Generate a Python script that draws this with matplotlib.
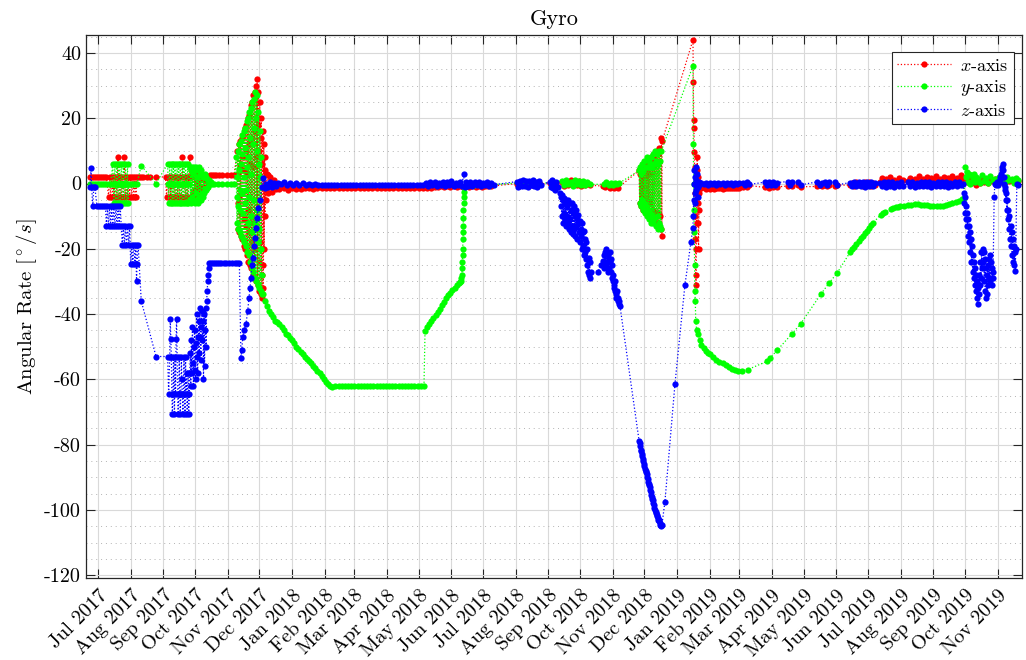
import numpy as np
import pandas as pd
import matplotlib
matplotlib.use('Agg')
import matplotlib.pyplot as plt
import matplotlib.dates as mdates
from matplotlib.ticker import MultipleLocator, FuncFormatter

plt.rcParams['font.family'] = 'serif'
plt.rcParams['font.serif'] = ['cmr10']
plt.rcParams['mathtext.fontset'] = 'cm'
plt.rcParams['axes.unicode_minus'] = False
plt.rcParams['axes.formatter.use_mathtext'] = True

# время в днях от 1 июля 2017, значение в град/с
start = pd.Timestamp('2017-07-01')

x_pts = [
    (-8, 2), (-6, 2), (-4, 2), (-2, 2), (0, 2), (2, 2), (4, 2), (6, 2), (8, 2),
    (10, -4), (11, 2), (12, -4), (13, 2), (14, -4), (15, 2), (16, -4), (17, 2), (18, -4), (19, 8), (19.5, 2),
    (20, -4), (21, 2), (22, -4), (23, 2), (24, -4), (25, 8), (25.5, 2), (26, -4), (27, 2), (28, -4), (29, 2),
    (30, -4), (31, 2), (32, -4), (33, 2), (34, -4), (35, 2), (36, -4), (37, 2),
    (39, 2), (41, 2), (43, 2), (46, 2), (49, 2), (55, 2),
    (64, 2), (65, -4), (66, 2), (67, -4), (68, 2), (69, -4), (70, 2), (71, -4), (72, 2), (73, -4), (74, 2),
    (75, -4), (76, 2), (77, -4), (78, 2), (79, -4), (80, 8), (80.5, 2), (81, -4), (82, 2), (83, -4), (84, 2),
    (85, -4), (86, 2), (87, 8), (87.5, 2), (88, -4), (89, 2),
    (90, -3), (90.5, 3), (91, -4), (91.5, 2), (92, -2), (92.5, 4), (93, -4), (93.5, 3), (94, -3), (94.5, 1),
    (95, -2), (95.5, 3), (96, -1), (96.5, 2), (97, -2), (97.5, 2), (98, 1), (99, -1), (100, 2), (101, -2),
    (102, 1), (103, -1), (104, 2), (105, 0), (106, 2.5),
    (108, 2.5), (110, 2.5), (112, 2.5), (115, 2.5), (118, 2.5), (122, 2.5), (126, 2.5), (129, 2.5),
    (132, 10), (132.35, -6), (132.7, -14), (133.05, 3), (133.4, 12), (133.75, -4), (134.1, -15), (134.45, 5),
    (134.8, 13), (135.15, -9), (135.5, -16), (135.85, 6), (136.2, 14), (136.55, -3), (136.9, -17), (137.25, 8),
    (137.6, 15), (137.95, -11), (138.3, -19), (138.65, 4), (139, 17), (139.35, -6), (139.7, -20), (140.05, 10),
    (140.4, 18), (140.75, -13), (141.1, -22), (141.45, 3), (141.8, 20), (142.15, -8), (142.5, -24), (142.85, 12),
    (143.2, 21), (143.55, -15), (143.9, -25), (144.25, 6), (144.6, 24), (144.95, -10), (145.3, -26), (145.65, 14),
    (146, 25), (146.35, -18), (146.7, -28), (147.05, 5), (147.4, 27), (147.75, -12), (148.1, -29), (148.45, 16),
    (148.8, 28), (149.15, -20), (149.5, -30), (149.85, 8), (150.2, 30), (150.55, -14), (150.9, 32), (151.25, -31),
    (151.6, 18), (151.95, 28), (152.3, -24), (152.65, -33), (153, 10), (153.35, 25), (153.7, -18), (154.05, -34),
    (154.4, 14), (154.75, 20), (155.1, -28), (155.45, -35), (155.8, 6), (156.15, 16), (156.5, -32), (156.85, -25),
    (157.2, 12), (157.55, -20), (157.9, 8), (158.25, -10), (158.6, 4), (159, -5), (159.6, -2), (160.2, 3),
    (160.8, 2.5), (161.5, -3), (163, 2), (165, -2.5), (167, 1), (169, -1.8),
    (172, -1.8), (176, -1.5), (180, -1.9), (184, -1.4), (188, -1.7), (192, -1.6), (196, -1.3), (200, -1.5),
    (204, -1.6), (208, -1.4), (212, -1.5), (216, -1.5), (220, -1.4), (224, -1.5), (228, -1.5), (232, -1.4),
    (236, -1.5), (240, -1.5), (244, -1.4), (248, -1.5), (252, -1.5), (256, -1.4), (260, -1.5), (264, -1.5),
    (268, -1.4), (272, -1.5), (276, -1.5), (280, -1.4), (284, -1.5), (288, -1.5), (292, -1.4), (296, -1.5),
    (300, -1.5), (304, -1.4), (308, -1.5), (312, -1.5), (316, -1.3), (319, -1.0), (322, -1.2), (325, -0.8),
    (328, -1.1), (331, -0.9), (334, -1.2), (337, -0.8), (340, -1.0), (343, -0.9), (346, -1.2), (349, -0.8),
    (352, -1.0), (355, -0.7), (358, -1.0), (361, -0.8), (364, -1.0), (367, -0.7), (370, -0.9), (373, -0.8),
    (397, 0), (399, -0.8), (401, 0.5), (403, -0.6), (405, 0.3), (407, -0.5), (409, 0.6), (411, -0.4),
    (413, 0.4), (415, -0.6), (417, 0.2), (419, -0.3),
    (428, 0.3), (430, -0.6), (432, 0.2), (434, -0.4), (440, 0.5), (442, -0.8), (444, 0.8), (446, -0.5),
    (448, 1), (450, -0.6), (452, 0.7), (454, -0.4), (456, 0.9), (458, -0.7), (460, 0.5), (462, -0.6),
    (464, 0.3), (466, -0.5),
    (479, -0.8), (481, -1.2), (483, -0.6), (485, -1.3), (487, -0.9), (489, -1.4), (491, -1.0), (493, -1.3),
    (513, 4), (513.5, -6), (514, 3), (514.5, -7), (515, 5), (515.5, -5), (516, 3), (516.5, -8), (517, 6),
    (517.5, -5), (518, 2), (518.5, -8), (519, 6), (519.5, -9), (520, 4), (520.5, -7), (521, 7), (521.5, -9),
    (522, 3), (522.5, -10), (523, 7), (523.5, -6), (524, 8), (524.5, -10), (525, 5), (525.5, -11), (526, 8),
    (526.5, -8), (527, 9), (527.5, -11), (528, 6), (528.5, -12), (529, 9), (529.5, -9), (530, 10), (530.5, -12),
    (531, 7), (531.5, -13), (532, 11), (532.5, -10), (533, 10), (533.5, -14), (534, 14), (534.5, -16), (534.8, 13),
    (564, 44), (564.3, 31), (564.6, 19.5), (564.9, 17), (565.2, 9.5), (565.5, 5), (565.8, -3), (566, -10),
    (566.3, -17), (566.6, -28), (566.9, -31), (567.2, -20), (567.5, -12), (567.8, 4), (568, 8), (568.3, 2),
    (568.6, -6), (569, -12), (569.3, -20), (569.6, -8), (570, -3), (571, -1.5),
    (572, -1.5), (574, -1), (576, -1.8), (578, -1.2), (580, -1.6), (582, -1.3), (584, -1.7), (586, -1.4),
    (588, -1.5), (590, -1.3), (592, -1.6), (594, -1.4), (596, -1.5), (598, -1.4), (600, -1.5), (602, -1.3),
    (604, -1.5), (606, -1.4), (608, -1.5),
    (611, -1), (613, -0.5), (615, -1.2), (617, -0.6),
    (632, -1.2), (634, -0.6), (636, -1.3), (638, -0.5), (640, -1.1), (642, -0.7), (644, -1.0),
    (654, -0.8), (656, -0.4), (658, -0.9), (664, -0.6), (666, -1.0),
    (682, -0.9), (684, -0.4), (686, -0.8), (689, -0.5), (691, -0.9), (693, -0.4), (699, -0.8), (701, -0.5),
    (713, -0.5), (715, 0.3), (717, -0.8), (719, 0.5), (721, -0.6), (723, 0.2), (725, -0.9), (727, 0.4),
    (729, -0.5), (731, 0.6), (733, -0.7), (735, 0.3), (737, -0.4),
    (741, 0.5), (743, 1.8), (745, 0.3), (747, 1.5), (749, -0.2), (751, 2), (753, 0.5), (755, 1.2),
    (757, -0.3), (759, 1.7), (761, 0.4), (763, 1.0),
    (768, 0.8), (770, 1.8), (772, 0.5), (774, 1.5), (776, 0.9), (778, 2.2), (780, 0.6), (782, 1.4),
    (784, 1.0), (786, 2.0), (788, 0.7), (790, 1.6), (792, 1.1), (794, 2.3), (796, 0.8), (798, 1.5),
    (800, 1.2), (802, 2.0), (804, 0.9), (806, 1.7), (808, 1.3), (810, 2.4), (812, 1.0), (814, 1.6),
    (816, 1.4), (818, 2.5), (820, 1.1), (822, 1.8),
    (824, 0.5), (826, 2), (828, 0.3), (830, 1.2), (832, -0.5), (834, 1.5), (836, 0.2), (838, 1),
    (840, 0.6), (842, 1.4), (844, 0.1), (846, 1.2), (848, 0.8), (850, 1.5), (852, 0.4), (854, 1.0),
    (856, 0.6), (858, 1.3), (860, 0.5), (862, 1.1), (864, 0.8), (866, 1.2), (868, 0.6), (870, 1.0), (872, 0.8),
]

y_pts = [
    (-8, 0), (-6, 0), (-4, 0), (-2, 0), (0, 0), (2, 0), (4, 0), (6, 0), (8, 0), (10, 0), (12, 0),
    (14, 6), (14.5, 0), (15, -6), (15.5, 0), (16, 6), (16.5, 0), (17, -6), (17.5, 0), (18, 6), (18.5, 0),
    (19, -6), (19.5, 0), (20, 6), (20.5, 0), (21, -6), (21.5, 0), (22, 6), (22.5, 0), (23, -6), (23.5, 0),
    (24, 6), (24.5, 0), (25, -6), (25.5, 0), (26, 6), (26.5, 0), (27, -6), (27.5, 0), (28, 6), (28.5, -6),
    (29, 0), (31, 0), (33, 0), (35, 0), (37, 0), (41, 5.5), (55, 0),
    (66, 6), (66.5, 0), (67, -6), (67.5, 0), (68, 6), (68.5, 0), (69, -6), (69.5, 0), (70, 6), (70.5, -6),
    (71, 0), (71.5, 6), (72, -6), (72.5, 0), (73, 6), (73.5, 0), (74, -6), (74.5, 0), (75, 6), (75.5, -6),
    (76, 0), (76.5, 6), (77, 0), (77.5, -6), (78, 6), (78.5, 0), (79, -6), (79.5, 0), (80, 6), (80.5, -6),
    (81, 0), (81.5, 6), (82, 0), (82.5, -6), (83, 6), (83.5, 0), (84, -6), (84.5, 0), (85, 6), (85.5, -6), (86, 0),
    (87, 5), (87.5, -5), (88, 4), (88.5, -6), (89, 5), (89.5, -4), (90, 3), (90.5, -5), (91, 5), (91.5, -6),
    (92, 4), (92.5, -3), (93, 5), (93.5, -5), (94, 2), (94.5, -6), (95, 4), (95.5, -4), (96, 5), (96.5, -5),
    (97, 3), (97.5, -5), (98, 4), (98.5, -3), (99, 3), (99.5, -4), (100, 2), (100.5, -3), (101, 3), (101.5, -2),
    (102, 2), (102.5, -2), (103, 1.5), (103.5, -1.5), (104, 1), (104.5, -1), (105, 1), (106, 0), (107, 0.5), (108, 0),
    (110, 0), (114, 0), (118, 0), (122, 0), (126, 0), (129, 0),
    (131, 8), (131.35, -4), (131.7, -12), (132.05, 2), (132.4, 10), (132.75, -7), (133.1, -14), (133.45, 4),
    (133.8, 12), (134.15, -2), (134.5, -15), (134.85, -8), (135.2, 13), (135.55, 6), (135.9, -16), (136.25, -3),
    (136.6, 15), (136.95, 9), (137.3, -17), (137.65, -9), (138, 16), (138.35, 2), (138.7, -18), (139.05, -6),
    (139.4, 17), (139.75, 11), (140.1, -19), (140.45, -2), (140.8, 19), (141.15, 5), (141.5, -21), (141.85, -12),
    (142.2, 20), (142.55, 8), (142.9, -22), (143.25, -4), (143.6, 22), (143.95, 14), (144.3, -24), (144.65, -10),
    (145, 23), (145.35, 3), (145.7, -26), (146.05, -15), (146.4, 25), (146.75, 12), (147.1, -27), (147.45, -5),
    (147.8, 26), (148.15, 17), (148.5, -29), (148.85, -12), (149.2, 28), (149.55, 20), (149.9, -30), (150.25, -8),
    (150.6, 27), (150.95, 10), (151.3, -31), (151.65, -18), (152, 22), (152.35, 6), (152.7, -32), (153.05, -14),
    (153.4, 16), (153.75, 2), (154.1, -33), (154.45, -20), (154.8, 8), (155.15, -28), (155.5, -34),
    (156, -34), (158, -36), (160, -37.5), (162, -39), (164, -40), (166, -41), (168, -42), (170, -42.5),
    (172, -43), (174, -44), (176, -45), (178, -46), (180, -46.5), (182, -47.3), (184, -48), (186, -49),
    (188, -50), (190, -50.8), (192, -51.5), (194, -52.2), (196, -53), (198, -53.7), (200, -54.3), (202, -55),
    (204, -55.8), (206, -56.5), (208, -57.3), (210, -58), (212, -59), (214, -60), (216, -60.7), (218, -61.4),
    (220, -62), (222, -62.2), (225, -62), (228, -62.1), (231, -62), (234, -62.1), (237, -62), (240, -62.1),
    (243, -62), (246, -62.1), (249, -62), (252, -62.1), (255, -62), (258, -62.1), (261, -62), (264, -62.1),
    (267, -62), (270, -62.1), (273, -62), (276, -62.1), (279, -62), (282, -62.1), (285, -62), (288, -62.1),
    (291, -62), (294, -62.1), (297, -62), (300, -62.1), (303, -62), (306, -62.1), (309, -62.1),
    (310, -45.2), (312, -44), (314, -43), (316, -42.2), (318, -41.2), (320, -40.3), (322, -39.3), (324, -38.3),
    (326, -37.2), (328, -36.3), (330, -35.2), (332, -34.3), (334, -33.5), (336, -32.7), (338, -32), (340, -31.2),
    (342, -30.5), (343, -30.2), (344, -30), (344.5, -29), (345, -28), (345.2, -26), (345.4, -24), (345.6, -22),
    (345.8, -20), (346, -17), (346.1, -15), (346.2, -13), (346.3, -10.5), (346.45, -8), (346.6, -6),
    (346.75, -4), (346.9, -2.5), (347.2, -1.2),
    (349, -0.5), (352, -0.3), (356, -0.5), (360, -0.2), (364, -0.4), (368, -0.3), (372, -0.4),
    (398, 0.2), (402, -0.2), (406, 0.3), (410, -0.3), (414, 0.2), (418, -0.2),
    (431, 0.5), (440, 0.8), (442, -0.5), (444, 1), (446, -0.3), (448, 0.6), (450, -0.7), (452, 1), (454, -0.2),
    (456, 0.7), (458, -0.6), (460, 0.9), (462, -0.4), (464, 0.5), (466, -0.3),
    (480, -0.2), (482, 0.5), (484, -0.4), (486, 0.3), (488, -0.5), (490, 0.2), (492, -0.3), (494, 0.1),
    (513, 4), (513.5, -6), (514, 5), (514.5, -7), (515, 3), (515.5, -5), (516, 6), (516.5, -8), (517, 4),
    (517.5, -6), (518, 7), (518.5, -9), (519, 5), (519.5, -7), (520, 8), (520.5, -10), (521, 5), (521.5, -8),
    (522, 7), (522.5, -11), (523, 6), (523.5, -9), (524, 8), (524.5, -12), (525, 5), (525.5, -10), (526, 9),
    (526.5, -12), (527, 6), (527.5, -11), (528, 10), (528.5, -13), (529, 7), (529.5, -10), (530, 9), (530.5, -14),
    (531, 6), (531.5, -12), (532, 10), (532.5, -13), (533, 7), (533.5, -14), (534, 10),
    (564, 36), (564.3, 12), (564.6, 0), (564.9, -8), (565.2, -15), (565.5, -25), (565.8, -33), (566.2, -36),
    (566.6, -42), (567.5, -45), (569, -46), (570.6, -48), (572, -49.5), (574, -50.5), (576, -51.2), (578, -51.8),
    (580, -52.3), (583, -53.2), (586, -54), (589, -54.6), (592, -55), (595, -55.6), (598, -56.2), (601, -56.7),
    (604, -57.2), (607, -57.5), (610, -57.5), (616, -57), (634, -54.5), (637, -53.5), (644, -51), (658, -46),
    (666, -43), (685, -34), (693, -30.5), (700.5, -27.5), (713, -21), (715, -20), (717, -19.3), (719, -18.5),
    (721, -17.6), (723, -16.8), (725, -16), (727, -15.2), (729, -14.4), (731, -13.6), (733, -12.8), (735, -12),
    (742, -9.5), (744, -9), (746, -8.7), (752, -7.9), (754, -7.6), (756, -7.3), (758, -7.1), (760, -7),
    (764, -6.8), (768, -6.6), (771, -6.5), (774, -6.4), (777, -6.4), (780, -6.5), (783, -6.6), (786, -6.7),
    (789, -6.8), (792, -6.9), (795, -7), (798, -6.9), (801, -6.8), (804, -6.6), (807, -6.4), (810, -6.1),
    (813, -5.8), (816, -5.3), (819, -4.8), (821, -4.3),
    (822, 5), (823, 2), (824, 3.5), (825, 0.5), (826, 3), (827, 0), (828, 2.5), (829, 1), (830, 3), (831, 0.5),
    (832, 2), (834, 1.5), (836, 0.3), (838, 2.5), (840, 0.8), (842, 1.8), (844, 0.2), (846, 2.2), (848, 1),
    (850, 1.5), (852, 0.3), (854, 2), (856, 0.8), (858, 1.5), (860, 0.5), (862, 2), (864, 1), (866, 1.5),
    (868, 0.3), (870, 1.8), (872, 1),
]

z_pts = [
    (-7.5, -1), (-6.6, 4.6), (-6, -1), (-5, -7), (-4, -1), (-3, -1), (-1, -7), (1, -7), (3, -7), (5, -7), (7, -7),
    (8, -13), (9, -7), (10, -13), (11, -7), (12, -13), (13, -7), (14, -13), (15, -7), (16, -13), (17, -7),
    (18, -13), (19, -7), (20, -13), (21, -7), (22, -13), (23, -18.7), (24, -13), (25, -18.7), (26, -13),
    (27, -18.7), (28, -13), (29, -18.7), (30, -13), (31, -24.6), (32, -18.7), (33, -24.6), (34, -18.7),
    (35, -24.6), (36, -18.7), (36.5, -30), (37, -24.6), (38, -18.7), (41, -36), (55, -53),
    (66, -53), (67, -64.6), (68, -53), (68.5, -41.5), (69, -47.5), (69.5, -53), (70, -64.6), (70.5, -70.5),
    (71, -64.6), (71.5, -53), (72, -64.6), (72.5, -70.5), (73, -53), (73.5, -64.6), (74, -47.5), (74.5, -41.5),
    (75, -53), (75.5, -64.6), (76, -70.5), (76.5, -64.6), (77, -53), (77.5, -64.6), (78, -70.5), (78.5, -64.6),
    (79, -53), (79.5, -60), (80, -64.6), (80.5, -70.5), (81, -64.6), (81.5, -53), (82, -64.6), (82.5, -70.5),
    (83, -53), (83.5, -64.6), (84, -58), (84.5, -70.5), (85, -64.6), (85.5, -58), (86, -70.5), (86.5, -64.6), (87, -58),
    (87.5, -52), (88, -62), (88.5, -48), (89, -58), (89.5, -44), (90, -55), (90.5, -62), (91, -50), (91.5, -45),
    (92, -57), (92.5, -60), (93, -49), (93.5, -40), (94, -53), (94.5, -58), (95, -47), (95.5, -42), (96, -52),
    (96.5, -38), (97, -47), (97.5, -54), (98, -44), (98.5, -39), (99, -48), (99.5, -42), (100, -60), (100.5, -40),
    (101, -56), (101.5, -45), (102, -38), (102.5, -50), (103, -36), (103.5, -33), (104, -30), (104.5, -28),
    (105, -26), (105.5, -24.5),
    (107, -24.5), (109, -24.5), (111, -24.5), (113, -24.5), (115, -24.5), (117, -24.5), (119, -24.5),
    (121, -24.5), (124, -24.5), (127, -24.5), (130, -24.5), (132, -24.5), (134, -24.5),
    (135.5, -53.5), (136.3, -51), (137.2, -47), (138.5, -45), (140.3, -43), (141.9, -39), (143.1, -35),
    (144.1, -32), (145, -29), (145.7, -25), (146.6, -22.7), (147.7, -19), (148.8, -16.6), (149.6, -13.5),
    (150.4, -10.5), (152, -7.5), (153.6, -5.2), (155.2, -1.2), (156.7, 1.8), (158, -1.5), (159.5, 0),
    (161, -1), (163, 0.5), (165, -1.2), (167, 0.3), (169, -0.8), (171, 0.2),
    (173, -0.3), (176, 0.4), (179, -0.5), (182, 0.3), (185, -0.6), (188, 0.2), (191, -0.4), (194, 0.3),
    (197, -0.6), (200, -0.2), (203, -0.5), (206, -0.3), (209, -0.6), (212, -0.4), (215, -0.6), (218, -0.5),
    (221, -0.6), (224, -0.5), (227, -0.6), (230, -0.5), (233, -0.6), (236, -0.5), (239, -0.6), (242, -0.5),
    (245, -0.6), (248, -0.5), (251, -0.6), (254, -0.5), (257, -0.6), (260, -0.5), (263, -0.6), (266, -0.5),
    (269, -0.6), (272, -0.5), (275, -0.6), (278, -0.5), (281, -0.6), (284, -0.5), (287, -0.6), (290, -0.5),
    (293, -0.6), (296, -0.5), (299, -0.6), (302, -0.5), (305, -0.6), (308, -0.4), (311, 0.2), (313, -0.8),
    (315, 0.4), (317, -0.6), (319, 0.5), (321, -0.9), (323, 0.3), (325, -0.5), (327, 0.6), (329, -0.8),
    (331, 0.4), (333, -0.6), (335, 0.7), (337, -0.9), (339, 0.3), (341, -0.5), (343, 0.6), (345, -0.8),
    (346.5, 3), (347.5, -1.2), (349, 0.5), (351, -0.7), (353, 0.6), (355, -0.9), (357, 0.4), (359, -0.6),
    (361, 0.5), (363, -0.8), (365, 0.3), (367, -0.6), (369, 0.5), (371, -0.7), (373, 0.2), (375, -0.4),
    (397, 0.6), (398.5, -1), (400, 0.8), (401.5, -0.9), (403, 1), (404.5, -0.7), (406, 0.7), (407.5, -1.1),
    (409, 0.9), (410.5, -0.6), (412, 1), (413.5, -0.9), (415, 0.6), (416.5, -1), (418, 0.8), (419.5, -0.5),
    (428, 0.5), (429, -1), (430, 1), (431, -1.5), (432, 0), (433, -2), (434, 0.5), (436, -1),
    (438, -3), (438.5, -7), (439, -4), (439.5, -10), (440, -3.5), (440.5, -12), (441, -5), (441.5, -9),
    (442, -4.3), (442.5, -11), (443, -6), (443.5, -13), (444, -5), (444.5, -10), (445, -7), (445.5, -12),
    (446, -5.2), (446.5, -14), (447, -6), (447.5, -11), (448, -8), (448.5, -15), (449, -6), (449.5, -13),
    (450, -9), (450.5, -15.5), (451, -7), (451.5, -14), (452, -10), (452.5, -16), (453, -8), (453.5, -13),
    (454, -11), (454.5, -17), (455, -9.8), (455.5, -15), (456, -12), (456.5, -18), (457, -11.4), (457.5, -16),
    (458, -14), (458.5, -20), (459, -12), (459.5, -19), (460, -15), (460.5, -22), (461, -14.5), (461.5, -21),
    (462, -17), (462.5, -23), (463, -18), (463.5, -25), (464, -20), (464.5, -27), (465, -22.7), (465.5, -28),
    (466, -24), (466.5, -29), (467, -27),
    (474, -27), (477, -25), (479, -23.7), (479.5, -26), (480, -22), (480.5, -25), (481, -21), (481.5, -24),
    (482, -20), (482.5, -26), (483, -22), (483.5, -27), (484, -23), (484.5, -26), (485, -21), (485.5, -24),
    (486, -23), (486.5, -27), (487, -25), (487.5, -29), (488, -28), (488.5, -30), (489, -31), (489.5, -32),
    (490, -30), (490.5, -33), (491, -34), (491.5, -35), (492, -33), (492.5, -36), (493, -35), (493.5, -37),
    (494, -36), (494.8, -37.5),
    (513, -79), (513.5, -79.5), (514, -80.5), (514.5, -81.5), (515, -82), (515.5, -83), (516, -83.5),
    (516.5, -84.5), (517, -85), (517.5, -86), (518, -86.5), (518.5, -87.5), (519, -88), (519.5, -88.5),
    (520, -89), (520.5, -90), (521, -90.5), (521.5, -91.5), (522, -92), (522.5, -92.5), (523, -93),
    (523.5, -94), (524, -94.5), (524.5, -95.5), (525, -96), (525.5, -96.5), (526, -97), (526.5, -98),
    (527, -98.5), (527.5, -99.5), (528, -100), (528.5, -100.5), (529, -101), (529.5, -101.5), (530, -102),
    (530.5, -102.5), (531, -103), (531.5, -103), (532, -103.5), (532.5, -104), (533, -104.5), (533.5, -104.5),
    (534, -105), (534.6, -104.5),
    (537.4, -97.5), (546.9, -61.5), (556.4, -31), (562, -18), (564, -13.5),
    (564.3, -10), (564.6, -5), (565, 0), (565.3, 4), (565.6, -3), (566, 2), (566.3, -6), (566.6, 1), (567, -2),
    (567.3, 5), (567.6, -1), (568, 3), (568.3, -4), (568.6, 0), (569, -1), (569.5, 0.5),
    (570, -0.5), (572, 0.2), (574, -0.3), (576, 0.3), (578, -0.4), (580, 0.2), (582, -0.3), (584, 0.3),
    (586, -0.4), (588, 0.2), (590, -0.3), (592, 0.3), (594, -0.4), (596, 0.2), (598, -0.3), (600, 0.3),
    (602, -0.4), (604, 0.2), (606, -0.3), (608, 0.3),
    (611, 0.3), (613, -0.5), (615, 0.5), (617, -0.3),
    (632, 0.4), (634, -0.6), (636, 0.5), (638, -0.4), (640, 0.6), (642, -0.5), (644, 0.3),
    (654, 0.6), (656, -0.5), (658, 0.4), (664, 0.5), (666, -0.4),
    (682, 0.5), (684, -0.6), (686, 0.3), (689, 0.6), (691, -0.5), (693, 0.4), (699, 0.5), (701, -0.4),
    (713, 0.3), (715, -0.8), (717, 0.6), (719, -0.9), (721, 0.4), (723, -0.7), (725, 0.5), (727, -1),
    (729, 0.6), (731, -0.8), (733, 0.4), (735, -0.9), (737, 0.3),
    (741, 0.2), (743, -0.9), (745, 0.6), (747, -1), (749, 0.4), (751, -0.8), (753, 0.5), (755, -1.1),
    (757, 0.3), (759, -0.7), (761, 0.5), (763, -0.9),
    (768, 0.4), (770, -0.8), (772, 0.5), (774, -1), (776, 0.3), (778, -0.7), (780, 0.6), (782, -0.9),
    (784, 0.4), (786, -0.8), (788, 0.5), (790, -1), (792, 0.3), (794, -0.7), (796, 0.6), (798, -0.9),
    (800, 0.4), (802, -0.8), (804, 0.5), (806, -1), (808, 0.3), (810, -0.7), (812, 0.6), (814, -0.9),
    (816, 0.4), (818, -0.6), (820, 0),
    (820.5, -3), (821, -6), (821.5, -4), (822, -9), (822.5, -7), (823, -11), (823.5, -9), (824, -13),
    (824.5, -11), (825, -16), (825.5, -13), (826, -18), (826.5, -15), (827, -21), (827.5, -17), (828, -24),
    (828.5, -19), (829, -27), (829.5, -22), (830, -29), (830.5, -24), (831, -31), (831.5, -26), (832, -33),
    (832.5, -28), (833, -35), (833.5, -30), (834, -37), (834.5, -32), (835, -34), (835.5, -28), (836, -31),
    (836.5, -24), (837, -29), (837.5, -21), (838, -26), (838.5, -20), (839, -24), (839.5, -21), (840, -30),
    (840.5, -23), (841, -33), (841.5, -26), (842, -35), (842.5, -28), (843, -34), (843.5, -25), (844, -31),
    (844.5, -23), (845, -29), (845.5, -22), (846, -30), (846.5, -24), (847, -31), (847.5, -26), (848, -29),
    (848.5, -27),
    (849.5, -4), (850.2, 0), (851, -0.5), (852, 0.5), (853, -0.5), (854, 0.5), (855, 1), (855.5, 2), (856, 3),
    (856.5, 4), (857, 5), (857.8, 6), (858.2, 4), (858.6, 2), (859, 0), (859.5, -2), (860, -1), (860.5, -5),
    (861, -3), (861.5, -8), (862, -5), (862.5, -11), (863, -8), (863.5, -14), (864, -10), (864.5, -17),
    (865, -13), (865.5, -19), (866, -15), (866.5, -22), (867, -17), (867.5, -24), (868, -19), (868.5, -25),
    (869, -21), (869.5, -26.7), (870, -20), (871, 0), (872, -0.5),
]

series = [
    (x_pts, 'red', r'$x$-axis'),
    (y_pts, (0, 1, 0), r'$y$-axis'),
    (z_pts, 'blue', r'$z$-axis'),
]


def to_dates(pts):
    arr = np.array(pts, dtype=float)
    return start + pd.to_timedelta(arr[:, 0], unit='D'), arr[:, 1]


fig = plt.figure(figsize=(10.26, 6.6), dpi=100)
ax = fig.add_axes([0.0838, 0.124, 0.9122, 0.823])

for pts, color, label in series:
    d, v = to_dates(pts)
    ax.plot(d, v, linestyle=':', linewidth=0.9, marker='o', markersize=4.5,
            markeredgewidth=0, color=color, label=label)

ax.set_xlim(start + pd.Timedelta(days=-11.4), start + pd.Timedelta(days=875.8))
ax.set_ylim(-120.9, 45.5)

ax.xaxis.set_major_locator(mdates.MonthLocator())
ax.xaxis.set_major_formatter(mdates.DateFormatter('%b %Y'))
ax.yaxis.set_major_locator(MultipleLocator(20))
ax.yaxis.set_minor_locator(MultipleLocator(5))
ax.yaxis.set_major_formatter(FuncFormatter(lambda v, p: '%d' % v))

for lab in ax.get_xticklabels():
    lab.set_rotation(45)
    lab.set_ha('right')
    lab.set_rotation_mode('anchor')

ax.tick_params(axis='both', which='major', direction='in', top=True, right=True,
               length=6.5, width=0.8, labelsize=14.5, color='0.15')
ax.tick_params(axis='x', pad=6)
ax.tick_params(axis='both', which='minor', length=0)

ax.grid(True, which='major', color='0.85', linewidth=0.8)
ax.grid(True, which='minor', axis='y', color='0.7', linestyle=(0, (1, 4)), linewidth=0.7)
ax.set_axisbelow(True)
for sp in ax.spines.values():
    sp.set_color('0.15')
    sp.set_linewidth(0.9)

ax.set_title('Gyro', fontsize=16, pad=7)
ax.set_ylabel(r'Angular Rate [$^\circ/s$]', fontsize=15, labelpad=4)

leg = ax.legend(loc='upper right', bbox_to_anchor=(0.9915, 0.968), fancybox=False,
                edgecolor='0.15', framealpha=1, fontsize=13, handlelength=3,
                borderpad=0.3, labelspacing=0.25, handletextpad=0.5, borderaxespad=0)
leg.get_frame().set_linewidth(0.8)

fig.savefig('out.png', dpi=100)
